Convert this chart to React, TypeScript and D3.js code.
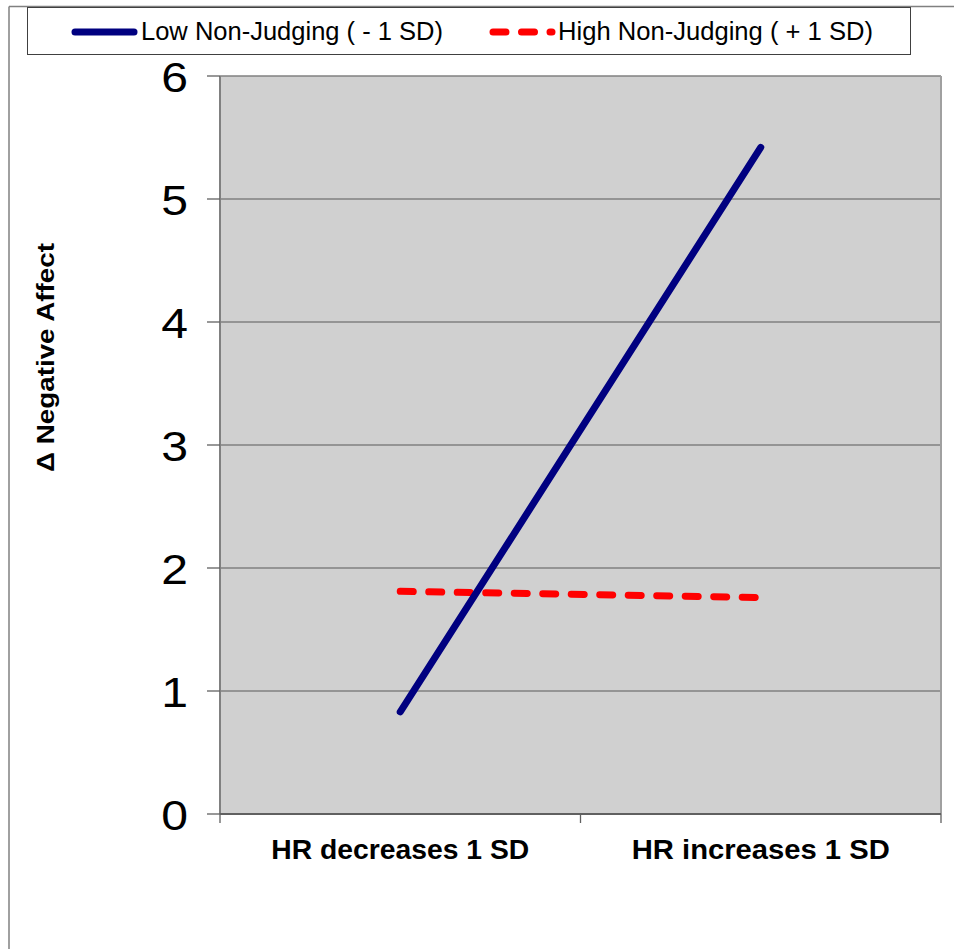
import React from "react";
import * as d3 from "d3";

const categories = ["HR decreases 1 SD", "HR increases 1 SD"];
const lowValues = [0.83, 5.42];
const highValues = [1.81, 1.76];
const yTicks = [0, 1, 2, 3, 4, 5, 6];
const seriesNames = ["Low Non-Judging ( - 1 SD)", "High Non-Judging ( + 1 SD)"];
const yTitle = "Δ Negative Affect";

const W = 954;
const H = 949;
const plot = { left: 220, right: 941, top: 76, bottom: 814 };

export default function App() {
  const x = d3.scaleBand().domain(categories).range([plot.left, plot.right]).padding(0);
  const y = d3.scaleLinear().domain([0, 6]).range([plot.bottom, plot.top]);
  const cx = (c: string) => (x(c) as number) + x.bandwidth() / 2;
  const line = d3
    .line<number>()
    .x((_, i) => cx(categories[i]))
    .y((d) => y(d));

  const font = "'Liberation Sans', Arial, sans-serif";
  const boundaries = [plot.left, ...categories.map((c) => (x(c) as number) + x.bandwidth())];

  return (
    <svg
      width={W}
      height={H}
      style={{ position: "absolute", left: 0, top: 0, background: "#fff" }}
      fontFamily={font}
    >
      {/* outer frame */}
      <line x1={9} y1={6.5} x2={W} y2={6.5} stroke="#808080" strokeWidth={1.5} />
      <line x1={9} y1={6.5} x2={9} y2={H} stroke="#808080" strokeWidth={1.5} />

      {/* legend */}
      <rect x={27.5} y={7.5} width={883} height={47} fill="#fff" stroke="#404040" strokeWidth={1} />
      <line x1={75} y1={32} x2={134} y2={32} stroke="#000080" strokeWidth={7} strokeLinecap="round" />
      <text x={141} y={39.5} fontSize={25} textLength={302} lengthAdjust="spacingAndGlyphs" fill="#000">
        {seriesNames[0]}
      </text>
      <line
        x1={493}
        y1={32}
        x2={552}
        y2={32}
        stroke="#ff0000"
        strokeWidth={7}
        strokeLinecap="round"
        strokeDasharray="13 15.5"
      />
      <text x={558} y={39.5} fontSize={25} textLength={315} lengthAdjust="spacingAndGlyphs" fill="#000">
        {seriesNames[1]}
      </text>

      {/* plot background */}
      <rect
        x={plot.left}
        y={plot.top}
        width={plot.right - plot.left}
        height={plot.bottom - plot.top}
        fill="#d0d0d0"
      />
      {/* grid lines */}
      {yTicks
        .filter((t) => t > 0)
        .map((t) => (
          <line key={t} x1={plot.left} x2={plot.right} y1={y(t)} y2={y(t)} stroke="#808080" strokeWidth={1.3} />
        ))}
      {/* plot border */}
      <line x1={plot.left} x2={plot.left} y1={plot.top} y2={plot.bottom} stroke="#808080" strokeWidth={2} />
      <line x1={plot.right} x2={plot.right} y1={plot.top} y2={plot.bottom} stroke="#a0a0a0" strokeWidth={2} />

      {/* y axis ticks and labels */}
      {yTicks.map((t) => (
        <g key={t}>
          <line x1={207} x2={plot.left} y1={y(t)} y2={y(t)} stroke="#606060" strokeWidth={1.3} />
          <text
            transform={`translate(188,${y(t) + 15.5}) scale(1.12,1)`}
            fontSize={43}
            textAnchor="end"
            fill="#000"
          >
            {t}
          </text>
        </g>
      ))}

      {/* x axis */}
      <line x1={plot.left} x2={plot.right} y1={plot.bottom} y2={plot.bottom} stroke="#606060" strokeWidth={2} />
      {boundaries.map((b, i) => (
        <line key={i} x1={b} x2={b} y1={plot.bottom} y2={823} stroke="#606060" strokeWidth={1.3} />
      ))}
      {categories.map((c) => (
        <text
          key={c}
          x={cx(c)}
          y={859}
          fontSize={28}
          fontWeight="bold"
          textAnchor="middle"
          textLength={258}
          lengthAdjust="spacingAndGlyphs"
          fill="#000"
        >
          {c}
        </text>
      ))}

      {/* y title */}
      <text
        transform={`translate(53.5,357.5) rotate(-90)`}
        fontSize={23}
        fontWeight="bold"
        textAnchor="middle"
        textLength={229}
        lengthAdjust="spacingAndGlyphs"
        fill="#000"
      >
        {yTitle}
      </text>

      {/* series */}
      <path
        d={line(highValues) as string}
        fill="none"
        stroke="#ff0000"
        strokeWidth={7}
        strokeLinecap="round"
        strokeDasharray="13 15.5"
      />
      <path d={line(lowValues) as string} fill="none" stroke="#000080" strokeWidth={7} strokeLinecap="round" />
    </svg>
  );
}
